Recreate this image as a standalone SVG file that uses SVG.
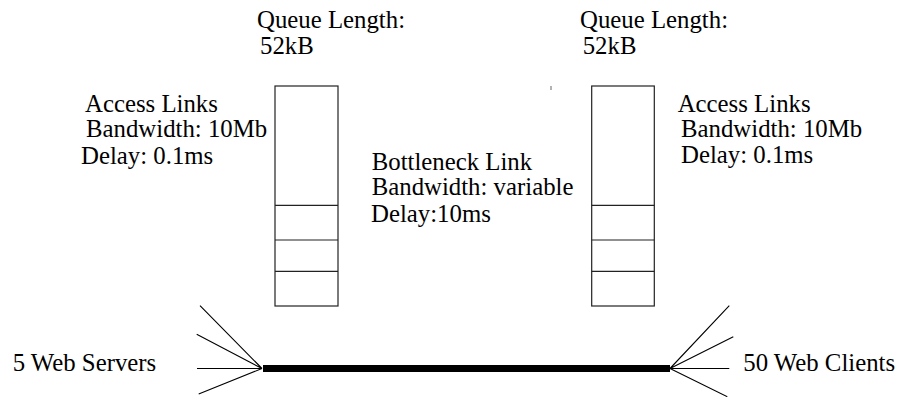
<svg xmlns="http://www.w3.org/2000/svg" width="901" height="397" viewBox="0 0 901 397">
<style>
text{font-family:"Liberation Serif",Tinos,"Times New Roman",Times,"DejaVu Serif",serif;font-size:24.8px;fill:#000}
.q{fill:#fff;stroke:#222;stroke-width:1.2}
.d{stroke:#222;stroke-width:1.2}
.w{stroke:#000;stroke-width:1.1;fill:none}
</style>
<rect width="901" height="397" fill="#fff"/>
<g id="left-queue">
<rect class="q" x="275" y="86" width="63" height="220"/>
<line class="d" x1="275" y1="205.3" x2="338" y2="205.3"/>
<line class="d" x1="275" y1="240" x2="338" y2="240"/>
<line class="d" x1="275" y1="271.3" x2="338" y2="271.3"/>
<text x="257" y="28" font-family="Liberation Serif, serif">Queue Length:</text>
<text x="260" y="54" font-family="Liberation Serif, serif">52kB</text>
</g>
<g id="right-queue">
<rect class="q" x="591.7" y="86" width="62.6" height="220"/>
<line class="d" x1="591.7" y1="205.3" x2="654.3" y2="205.3"/>
<line class="d" x1="591.7" y1="240" x2="654.3" y2="240"/>
<line class="d" x1="591.7" y1="271.3" x2="654.3" y2="271.3"/>
<text x="580" y="28">Queue Length:</text>
<text x="582.7" y="54">52kB</text>
</g>
<g id="left-access">
<text x="85" y="111.7">Access Links</text>
<text x="86" y="137.3">Bandwidth: 10Mb</text>
<text x="81" y="164">Delay: 0.1ms</text>
</g>
<g id="right-access">
<text x="677.7" y="111.7">Access Links</text>
<text x="681" y="137.3">Bandwidth: 10Mb</text>
<text x="681" y="162.5">Delay: 0.1ms</text>
</g>
<g id="bottleneck">
<text x="371.7" y="170">Bottleneck Link</text>
<text x="371.7" y="195">Bandwidth: variable</text>
<text x="371" y="222">Delay:10ms</text>
</g>
<g id="servers">
<text x="12.7" y="371">5 Web Servers</text>
</g>
<g id="clients">
<text x="743.3" y="371">50 Web Clients</text>
</g>
<g id="connectors">
<line x1="263" y1="368.5" x2="670" y2="368.5" stroke="#000" stroke-width="7"/>
<path class="w" d="M200 305.7L262 368.5M196.7 334.3L262 368.5M197 368.5L262 368.5M198.7 394L262 368.5"/>
<path class="w" d="M729.3 305.7L670 368.5M733.3 336.7L670 368.5M729.3 368.5L670 368.5M727.3 396.7L670 368.5"/>
<line x1="551" y1="86" x2="551" y2="90" stroke="#666" stroke-width="1"/>
</g>
</svg>
